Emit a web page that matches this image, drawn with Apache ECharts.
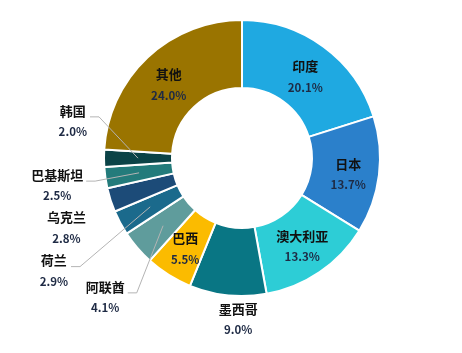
<!DOCTYPE html>
<html>
<head>
<meta charset="utf-8">
<script src="https://cdn.jsdelivr.net/npm/echarts@6/dist/echarts.min.js"></script>
<style>
  html, body { margin: 0; padding: 0; background: #fff; }
  #pie-chart { width: 462px; height: 353px; }
</style>
</head>
<body>
<div id="pie-chart"></div>
<script>
let countries = ['印度', '日本', '澳大利亚', '墨西哥', '巴西', '阿联酋', '荷兰', '乌克兰', '巴基斯坦', '韩国', '其他'];
let shares = [20.1, 13.7, 13.3, 9.0, 5.5, 4.1, 2.9, 2.8, 2.5, 2.0, 24.0];
let colors = ['#1fa9e1', '#2b80cb', '#2dcdd6', '#097684', '#fbbb00', '#5f9c9c', '#1b6a8c', '#1c4b78', '#237b7b', '#0b4347', '#9a7400'];
// which slices keep their label inside the ring
let insideLabel = ['印度', '日本', '澳大利亚', '巴西', '其他'];
// outside labels without a leader line
let noLine = ['墨西哥', '乌克兰'];
// hand nudges for the labels [dx, dy]
let labelNudge = {
  '印度': [0, 5],
  '日本': [0, 3],
  '其他': [0, 5],
  '墨西哥': [62, -15],
  '阿联酋': [4, -2],
  '荷兰': [-22, 7],
  '乌克兰': [14, -1],
  '巴基斯坦': [21, -8],
  '韩国': [28, -37]
};

let cx = 242, cy = 158, rIn = 70, rOut = 138;

let total = shares.reduce(function (a, b) { return a + b; }, 0);
// mid angle of each slice, clockwise from 12 o'clock
let midAngle = [];
let acc = 0;
shares.forEach(function (v) {
  midAngle.push((acc + v / 2) / total * Math.PI * 2);
  acc += v;
});

let chartDom = document.getElementById('pie-chart');
let pieChart = echarts.init(chartDom);
let option;

let sliceData = countries.map(function (name, i) {
  return { name: name, value: shares[i], itemStyle: { color: colors[i] } };
});

// same slices again, invisible, only to carry the labels above the ring
let labelData = countries.map(function (name, i) {
  let item = { name: name, value: shares[i] };
  if (insideLabel.indexOf(name) >= 0) {
    item.label = { position: 'inside' };
    item.labelLine = { show: false };
  } else if (noLine.indexOf(name) >= 0) {
    item.labelLine = { show: false };
  }
  return item;
});

option = {
  backgroundColor: '#fff',
  animation: false,
  series: [
    {
      type: 'pie',
      z: 2,
      center: [cx, cy],
      radius: [rIn, rOut],
      startAngle: 90,
      clockwise: true,
      silent: true,
      itemStyle: {
        borderColor: '#fff',
        borderWidth: 2
      },
      label: { show: false },
      labelLine: { show: false },
      data: sliceData
    },
    {
      type: 'pie',
      z: 5,
      center: [cx, cy],
      radius: [rIn, rOut],
      startAngle: 90,
      clockwise: true,
      silent: true,
      itemStyle: {
        color: 'rgba(0,0,0,0)',
        borderWidth: 0
      },
      label: {
        position: 'outside',
        formatter: function (p) {
          return '{n|' + p.name + '}\n{v|' + p.value.toFixed(1) + '%}';
        },
        rich: {
          n: {
            fontFamily: 'Noto Sans CJK SC',
            fontSize: 13,
            fontWeight: 'bold',
            color: '#111',
            lineHeight: 21,
            align: 'center'
          },
          v: {
            fontFamily: 'Noto Sans CJK SC',
            fontSize: 11.5,
            fontWeight: 'bold',
            color: '#1e2a44',
            lineHeight: 21,
            align: 'center'
          }
        }
      },
      labelLine: {
        show: true,
        length: 20,
        length2: 25,
        lineStyle: { color: '#b4b4b4', width: 1 }
      },
      labelLayout: function (p) {
        let name = countries[p.dataIndex];
        let nudge = labelNudge[name];
        if (!nudge) {
          return {};
        }
        if (insideLabel.indexOf(name) >= 0) {
          return { dx: nudge[0], dy: nudge[1] };
        }
        let r = p.labelRect;
        let right = r.x + nudge[0] + r.width;
        let ly = r.y + nudge[1] + r.height / 2 - 4;
        let a = midAngle[p.dataIndex];
        let rm = (rIn + rOut) / 2;
        let start = [cx + rm * Math.sin(a), cy - rm * Math.cos(a)];
        return {
          dx: nudge[0],
          dy: nudge[1],
          labelLinePoints: [start, [right + 12, ly], [right + 3, ly]]
        };
      },
      data: labelData
    }
  ]
};

option && pieChart.setOption(option);
</script>
</body>
</html>
